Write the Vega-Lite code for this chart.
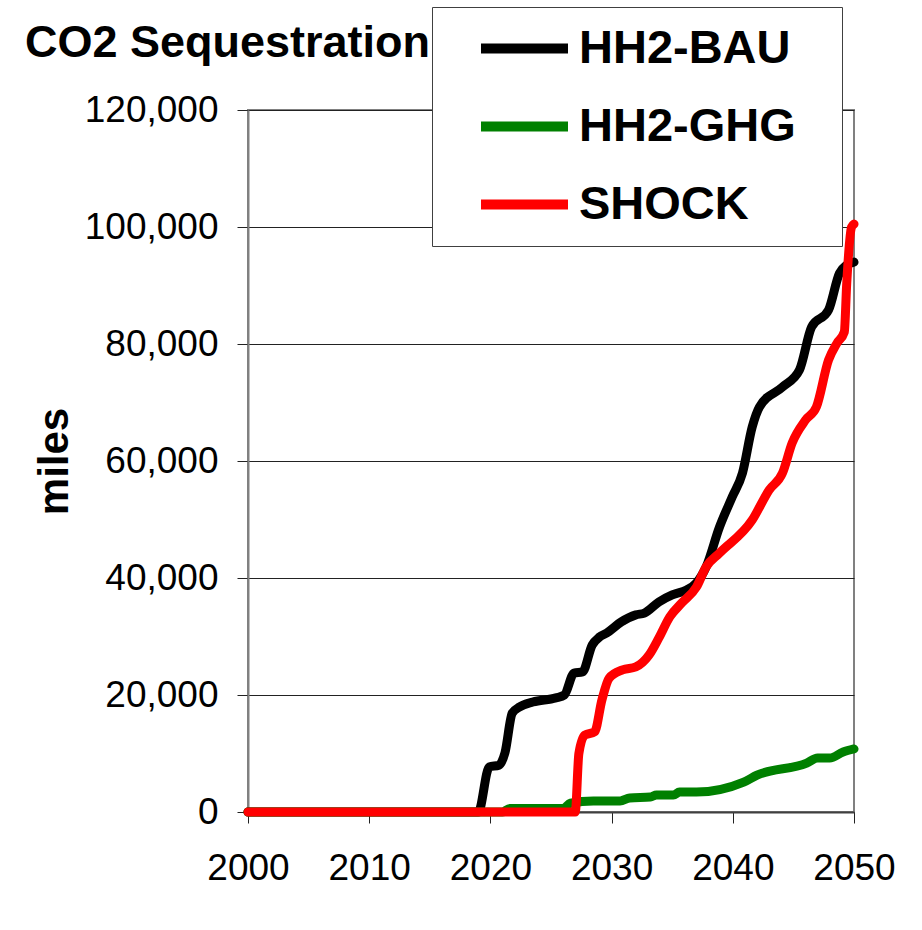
{
  "$schema": "https://vega.github.io/schema/vega-lite/v6.json",
  "width": 606,
  "height": 702,
  "autosize": {"type": "none"},
  "padding": {"left": 248, "top": 110, "right": 68, "bottom": 118},
  "background": "white",
  "config": {
    "font": "Liberation Sans",
    "view": {"stroke": "#808080", "strokeWidth": 2}
  },
  "title": {
    "text": "CO2 Sequestration",
    "anchor": "start",
    "frame": "group",
    "fontSize": 45,
    "fontWeight": "bold",
    "color": "black",
    "baseline": "alphabetic",
    "offset": 0,
    "dx": -223,
    "dy": 95
  },
  "data": {
    "values": [
      {"year": 2000, "miles": 0, "series": "HH2-BAU"},
      {"year": 2019.0, "miles": 0, "series": "HH2-BAU"},
      {"year": 2019.9, "miles": 7700, "series": "HH2-BAU"},
      {"year": 2020.7, "miles": 8000, "series": "HH2-BAU"},
      {"year": 2021.2, "miles": 10100, "series": "HH2-BAU"},
      {"year": 2021.8, "miles": 16900, "series": "HH2-BAU"},
      {"year": 2022.4, "miles": 17950, "series": "HH2-BAU"},
      {"year": 2023.5, "miles": 18800, "series": "HH2-BAU"},
      {"year": 2025.4, "miles": 19500, "series": "HH2-BAU"},
      {"year": 2026.1, "miles": 20000, "series": "HH2-BAU"},
      {"year": 2026.9, "miles": 23750, "series": "HH2-BAU"},
      {"year": 2027.6, "miles": 23950, "series": "HH2-BAU"},
      {"year": 2028.4, "miles": 28550, "series": "HH2-BAU"},
      {"year": 2029.0, "miles": 29900, "series": "HH2-BAU"},
      {"year": 2029.6, "miles": 30600, "series": "HH2-BAU"},
      {"year": 2030.8, "miles": 32500, "series": "HH2-BAU"},
      {"year": 2032.0, "miles": 33700, "series": "HH2-BAU"},
      {"year": 2032.7, "miles": 34000, "series": "HH2-BAU"},
      {"year": 2033.9, "miles": 35900, "series": "HH2-BAU"},
      {"year": 2035.0, "miles": 37100, "series": "HH2-BAU"},
      {"year": 2036.2, "miles": 37950, "series": "HH2-BAU"},
      {"year": 2037.0, "miles": 39150, "series": "HH2-BAU"},
      {"year": 2037.8, "miles": 41900, "series": "HH2-BAU"},
      {"year": 2038.9, "miles": 48700, "series": "HH2-BAU"},
      {"year": 2039.95, "miles": 53850, "series": "HH2-BAU"},
      {"year": 2040.8, "miles": 57950, "series": "HH2-BAU"},
      {"year": 2041.6, "miles": 65800, "series": "HH2-BAU"},
      {"year": 2042.2, "miles": 69230, "series": "HH2-BAU"},
      {"year": 2044.1, "miles": 72650, "series": "HH2-BAU"},
      {"year": 2045.5, "miles": 75550, "series": "HH2-BAU"},
      {"year": 2046.5, "miles": 82900, "series": "HH2-BAU"},
      {"year": 2047.9, "miles": 85800, "series": "HH2-BAU"},
      {"year": 2048.8, "miles": 92100, "series": "HH2-BAU"},
      {"year": 2049.4, "miles": 93500, "series": "HH2-BAU"},
      {"year": 2050, "miles": 94000, "series": "HH2-BAU"},

      {"year": 2000, "miles": 0, "series": "HH2-GHG"},
      {"year": 2021.0, "miles": 0, "series": "HH2-GHG"},
      {"year": 2021.6, "miles": 600, "series": "HH2-GHG"},
      {"year": 2026.0, "miles": 600, "series": "HH2-GHG"},
      {"year": 2026.6, "miles": 1500, "series": "HH2-GHG"},
      {"year": 2028.5, "miles": 1900, "series": "HH2-GHG"},
      {"year": 2030.7, "miles": 1900, "series": "HH2-GHG"},
      {"year": 2031.5, "miles": 2400, "series": "HH2-GHG"},
      {"year": 2033.2, "miles": 2560, "series": "HH2-GHG"},
      {"year": 2033.7, "miles": 2900, "series": "HH2-GHG"},
      {"year": 2035.1, "miles": 2900, "series": "HH2-GHG"},
      {"year": 2035.6, "miles": 3400, "series": "HH2-GHG"},
      {"year": 2037.0, "miles": 3400, "series": "HH2-GHG"},
      {"year": 2040.9, "miles": 5100, "series": "HH2-GHG"},
      {"year": 2042.0, "miles": 6300, "series": "HH2-GHG"},
      {"year": 2046.1, "miles": 8370, "series": "HH2-GHG"},
      {"year": 2047.0, "miles": 9230, "series": "HH2-GHG"},
      {"year": 2048.0, "miles": 9230, "series": "HH2-GHG"},
      {"year": 2049.1, "miles": 10250, "series": "HH2-GHG"},
      {"year": 2050, "miles": 10770, "series": "HH2-GHG"},

      {"year": 2000, "miles": 0, "series": "SHOCK"},
      {"year": 2027.0, "miles": 0, "series": "SHOCK"},
      {"year": 2027.3, "miles": 10000, "series": "SHOCK"},
      {"year": 2027.8, "miles": 13150, "series": "SHOCK"},
      {"year": 2028.6, "miles": 13700, "series": "SHOCK"},
      {"year": 2029.2, "miles": 19150, "series": "SHOCK"},
      {"year": 2029.8, "miles": 22900, "series": "SHOCK"},
      {"year": 2030.9, "miles": 24300, "series": "SHOCK"},
      {"year": 2032.0, "miles": 24800, "series": "SHOCK"},
      {"year": 2033.1, "miles": 26850, "series": "SHOCK"},
      {"year": 2033.9, "miles": 29750, "series": "SHOCK"},
      {"year": 2034.8, "miles": 33350, "series": "SHOCK"},
      {"year": 2035.8, "miles": 35750, "series": "SHOCK"},
      {"year": 2037.0, "miles": 38450, "series": "SHOCK"},
      {"year": 2037.8, "miles": 41900, "series": "SHOCK"},
      {"year": 2038.9, "miles": 44250, "series": "SHOCK"},
      {"year": 2041.6, "miles": 49900, "series": "SHOCK"},
      {"year": 2043.0, "miles": 55050, "series": "SHOCK"},
      {"year": 2044.1, "miles": 57950, "series": "SHOCK"},
      {"year": 2044.9, "miles": 63100, "series": "SHOCK"},
      {"year": 2046.0, "miles": 67000, "series": "SHOCK"},
      {"year": 2046.9, "miles": 69250, "series": "SHOCK"},
      {"year": 2047.9, "miles": 77250, "series": "SHOCK"},
      {"year": 2048.6, "miles": 80150, "series": "SHOCK"},
      {"year": 2049.2, "miles": 82050, "series": "SHOCK"},
      {"year": 2049.4, "miles": 90400, "series": "SHOCK"},
      {"year": 2049.8, "miles": 100000, "series": "SHOCK"},
      {"year": 2050, "miles": 100500, "series": "SHOCK"}
    ]
  },
  "mark": {
    "type": "line",
    "strokeWidth": 9,
    "strokeCap": "round",
    "strokeJoin": "round",
    "interpolate": "monotone"
  },
  "encoding": {
    "x": {
      "field": "year",
      "type": "quantitative",
      "scale": {"domain": [2000, 2050], "nice": false, "zero": false},
      "axis": {
        "title": null,
        "values": [2000, 2010, 2020, 2030, 2040, 2050],
        "format": "d",
        "labelFontSize": 37,
        "labelColor": "black",
        "labelPadding": 27,
        "labelFlush": false,
        "tickSize": 11,
        "tickColor": "#222222",
        "domainColor": "#404040",
        "domainWidth": 2,
        "grid": false
      }
    },
    "y": {
      "field": "miles",
      "type": "quantitative",
      "scale": {"domain": [0, 120000], "nice": false},
      "axis": {
        "title": "miles",
        "titleFontSize": 42,
        "titleFontWeight": "bold",
        "titleColor": "black",
        "titlePadding": 8,
        "values": [0, 20000, 40000, 60000, 80000, 100000, 120000],
        "format": ",d",
        "labelFontSize": 37,
        "labelColor": "black",
        "labelPadding": 19,
        "tickSize": 11,
        "tickColor": "#222222",
        "domainColor": "#808080",
        "domainWidth": 2,
        "grid": true,
        "gridColor": "#222222",
        "gridWidth": 1
      }
    },
    "color": {
      "field": "series",
      "type": "nominal",
      "scale": {
        "domain": ["HH2-BAU", "HH2-GHG", "SHOCK"],
        "range": ["#000000", "#008000", "#ff0000"]
      },
      "legend": {
        "orient": "none",
        "legendX": 184,
        "legendY": -103,
        "title": " ",
        "titleOrient": "right",
        "titleFontSize": 1,
        "titlePadding": 28,
        "padding": 18,
        "fillColor": "white",
        "strokeColor": "#404040",
        "labelFontSize": 47,
        "labelFontWeight": "bold",
        "labelColor": "black",
        "labelOffset": 31,
        "labelLimit": 500,
        "symbolType": "M-3,0H3",
        "symbolSize": 841,
        "symbolOffset": 51,
        "symbolStrokeWidth": 10,
        "rowPadding": 30,
        "zindex": 1
      }
    }
  }
}
